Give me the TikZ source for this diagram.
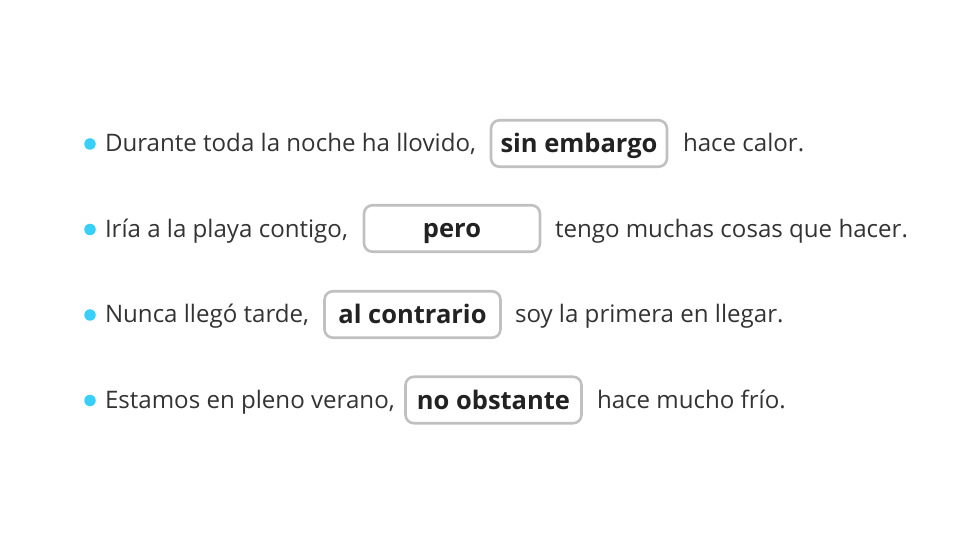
\documentclass[tikz,border=0pt]{standalone}
\usepackage{fontspec}
\setmainfont{Open Sans}
\usetikzlibrary{positioning}
\definecolor{bulletblue}{HTML}{38D0F8}
\definecolor{bodytext}{HTML}{333333}
\definecolor{boxtext}{HTML}{222222}
\definecolor{boxline}{HTML}{C0C0C0}
\tikzset{
  plain/.style={inner sep=0pt, outer sep=0pt, anchor=base west, text=bodytext, font=\fontsize{24.1}{28}\selectfont},
  answer/.style={draw=boxline, line width=2.6pt, rounded corners=8.5pt, fill=white, minimum width=176pt, minimum height=46.5pt, inner sep=0pt, outer sep=0pt, text height=24pt, text depth=5pt, text=boxtext, font=\fontsize{25.5}{30}\selectfont\bfseries},
  dot/.style={circle, fill=bulletblue, inner sep=0pt, minimum size=11.5pt},
}
\begin{document}
\begin{tikzpicture}[x=1pt,y=-1pt]
\useasboundingbox (0,0) rectangle (975,534);
% row 1
\node[dot] (b1) at (90,144) {};
\node[plain] (t1a) at (105,152) {Durante toda la noche ha llovido,};
\node[answer] (k1) at (579,143.5) {sin embargo};
\node[plain] (t1b) at (683,152) {hace calor.};
% row 2
\node[dot] (b2) at (90,229.5) {};
\node[plain] (t2a) at (105,237.5) {Iría a la playa contigo,};
\node[answer] (k2) at (452,228.5) {pero};
\node[plain] (t2b) at (555,237.5) {tengo muchas cosas que hacer.};
% row 3
\node[dot] (b3) at (90,315) {};
\node[plain] (t3a) at (105,323) {Nunca llegó tarde,};
\node[answer] (k3) at (412.5,314.5) {al contrario};
\node[plain] (t3b) at (515,323) {soy la primera en llegar.};
% row 4
\node[dot] (b4) at (90,400.5) {};
\node[plain] (t4a) at (105,408.5) {Estamos en pleno verano,};
\node[answer] (k4) at (493.5,400) {no obstante};
\node[plain] (t4b) at (597,408.5) {hace mucho frío.};
\end{tikzpicture}
\end{document}
